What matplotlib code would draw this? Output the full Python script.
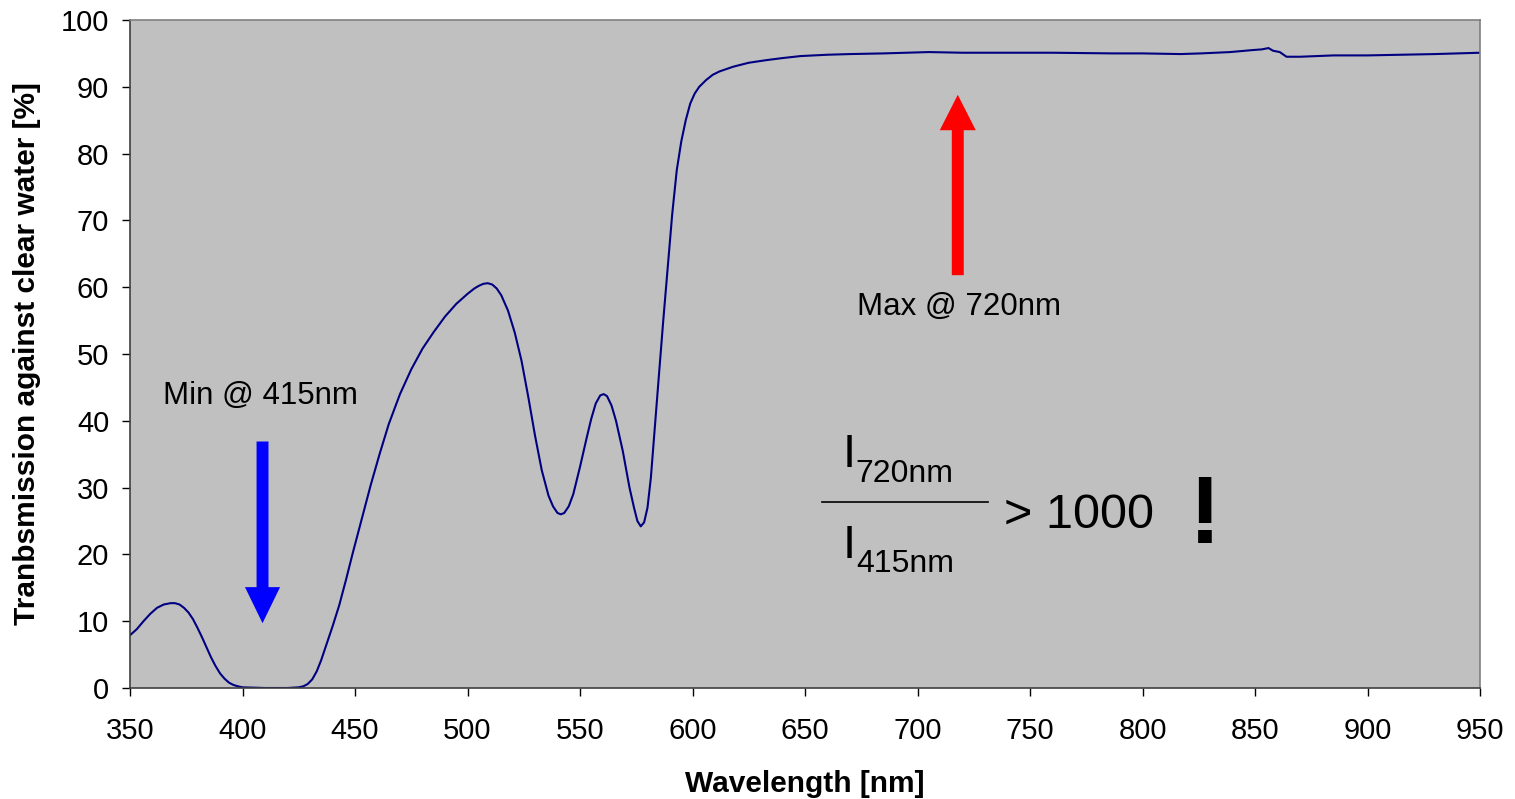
import matplotlib
matplotlib.use("Agg")
import matplotlib.pyplot as plt

plt.rcParams['font.family'] = ['Liberation Sans', 'DejaVu Sans']

wavelength = [350, 353, 356, 359, 362, 365, 368, 370, 372, 374, 376, 378, 380, 382,
              384, 386, 388, 390, 392, 394, 396, 398, 400, 405, 410, 415, 420, 425,
              427, 429, 431, 433, 435, 437, 440, 443, 446, 449, 453, 457, 461, 465,
              470, 475, 480, 485, 490, 495, 500, 503, 505, 507, 509, 511, 513, 515,
              518, 521, 524, 527, 530, 533, 536, 538, 540, 541.5, 543, 545, 547, 550,
              553, 555, 557, 559, 560.5, 562, 564, 566, 569, 572, 574, 575.5, 577,
              578.5, 580, 581.5, 583, 585, 587, 589, 591, 593, 595, 597, 599, 601,
              603, 606, 609, 612, 618, 625, 633, 640, 648, 660, 670, 685, 705, 720,
              742, 760, 787, 800, 817, 826, 839, 849, 853, 856, 858, 861, 864, 870,
              885, 900, 915, 930, 950]
transmission = [7.9, 8.8, 10.0, 11.1, 12.0, 12.5, 12.7, 12.7, 12.5, 12.0, 11.3, 10.3, 9.0, 7.6,
                6.1, 4.6, 3.3, 2.2, 1.4, 0.8, 0.45, 0.25, 0.1, 0.05, 0.0, 0.0, 0.0, 0.1,
                0.25, 0.6, 1.3, 2.5, 4.2, 6.2, 9.2, 12.4, 16.2, 20.2, 25.3, 30.4, 35.1, 39.5,
                44.0, 47.7, 50.8, 53.3, 55.6, 57.5, 59.0, 59.8, 60.2, 60.5, 60.6, 60.4, 59.8, 58.8,
                56.5, 53.2, 49.0, 43.6, 37.8, 32.6, 28.8, 27.2, 26.2, 26.0, 26.2, 27.2, 29.0, 33.1,
                37.5, 40.3, 42.6, 43.8, 44.0, 43.7, 42.3, 40.0, 35.5, 30.0, 27.0, 25.0, 24.2,
                24.8, 27.0, 31.5, 38.0, 46.5, 55.0, 63.0, 71.0, 77.5, 81.8, 85.0, 87.5, 89.0,
                90.0, 91.0, 91.8, 92.3, 93.0, 93.6, 94.0, 94.3, 94.6, 94.8, 94.9, 95.0, 95.2, 95.1,
                95.1, 95.1, 95.0, 95.0, 94.9, 95.0, 95.2, 95.5, 95.6, 95.8, 95.4, 95.2, 94.5, 94.5,
                94.7, 94.7, 94.8, 94.9, 95.1]

x_ticks = list(range(350, 951, 50))
y_ticks = list(range(0, 101, 10))

fig = plt.figure(figsize=(15.15, 7.99), dpi=100)
ax = fig.add_axes([130/1515, 111/799, 1350/1515, 668/799])
ax.set_facecolor('#C0C0C0')
ax.plot(wavelength, transmission, color='#000080', lw=1.5)

ax.set_xlim(350, 950)
ax.set_ylim(0, 100)
ax.set_xticks(x_ticks)
ax.set_yticks(y_ticks)
ax.tick_params(axis='both', direction='out', length=6, width=1, labelsize=21, colors='black')
ax.tick_params(axis='x', pad=15)
ax.tick_params(axis='y', pad=9)
for s in ['top', 'right']:
    ax.spines[s].set_color('#808080')
for s in ['left', 'bottom']:
    ax.spines[s].set_color('#404040')
for s in ax.spines.values():
    s.set_linewidth(1.2)

ax.set_xlabel('Wavelength [nm]', fontsize=21.5, fontweight='bold', labelpad=18)
ax.set_ylabel('Tranbsmission against clear water [%]', fontsize=21.5, fontweight='bold', labelpad=14)

# arrows
ax.arrow(408.9, 36.9, 0, -27.2, width=5.3, head_width=15.6, head_length=5.4,
         length_includes_head=True, color='#0000FF', lw=0)
ax.arrow(717.9, 61.8, 0, 27.0, width=5.3, head_width=16.0, head_length=5.3,
         length_includes_head=True, color='#FF0000', lw=0)

ax.text(407.8, 43.7, 'Min @ 415nm', fontsize=22.5, ha='center', va='center')
ax.text(718.5, 57.1, 'Max @ 720nm', fontsize=22.5, ha='center', va='center')

# ratio expression
ax.text(666.8, 33.1, 'I', fontsize=34, ha='left', va='baseline')
ax.text(672.6, 30.8, '720nm', fontsize=23, ha='left', va='baseline')
ax.text(666.8, 19.5, 'I', fontsize=34, ha='left', va='baseline')
ax.text(672.6, 17.4, '415nm', fontsize=23, ha='left', va='baseline')
ax.plot([657.4, 731.3], [27.9, 27.9], color='black', lw=1.2)
ax.text(738.4, 24.0, '> 1000', fontsize=35, ha='left', va='baseline')
ax.text(827.8, 21.7, '!', fontsize=70, fontweight='bold', ha='center', va='baseline')

fig.savefig('out.png', dpi=100)
